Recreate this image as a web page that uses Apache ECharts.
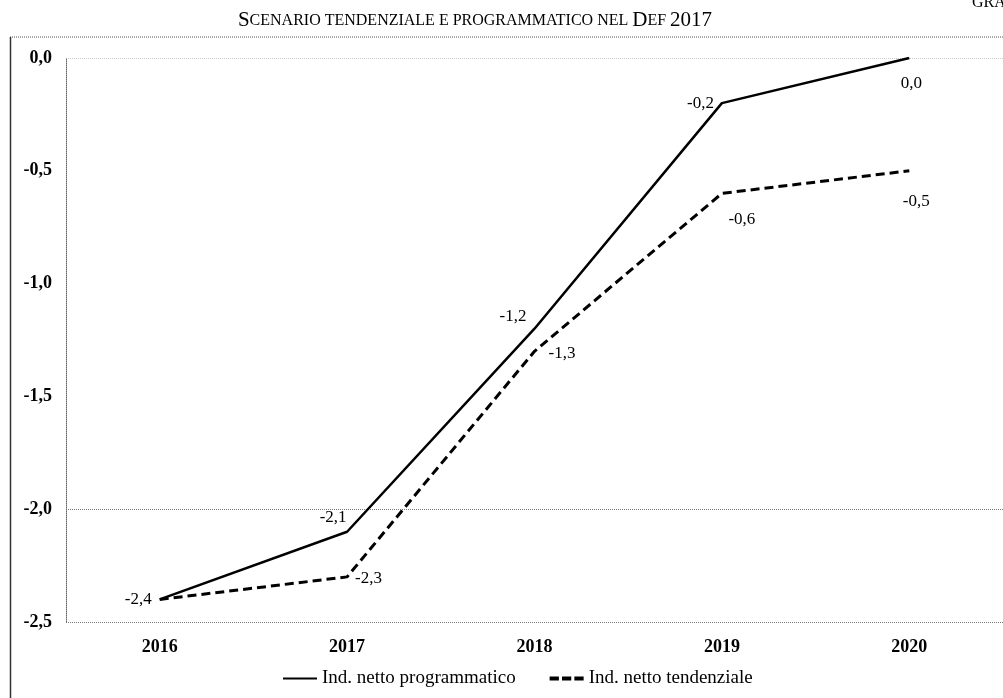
<!DOCTYPE html>
<html>
<head>
<meta charset="utf-8">
<script src="https://cdn.jsdelivr.net/npm/echarts@6/dist/echarts.min.js"></script>
<style>
  html, body { margin: 0; padding: 0; background: #fff; }
  #chart { width: 1003px; height: 698px; }
</style>
</head>
<body>
<div id="chart"></div>
<script>
const years = ['2016', '2017', '2018', '2019', '2020'];
const programmatico = [-2.4, -2.1, -1.2, -0.2, 0.0];
const tendenziale = [-2.4, -2.3, -1.3, -0.6, -0.5];

// where each value label sits relative to its point
const progLabels = [
  { position: 'left' },
  { position: 'top', offset: [-14, 2] },
  { position: 'left', offset: [0, -12] },
  { position: 'left' },
  { position: 'bottom', offset: [2, 9] }
];
const tendLabels = [
  { show: false },
  { position: 'right', offset: [0, 2] },
  { position: 'right', offset: [6, 2] },
  { position: 'bottom', offset: [20, 10] },
  { position: 'bottom', offset: [7, 14] }
];

const fmt = v => v.toFixed(1).replace('.', ',');
const serif = 'Liberation Serif';

const chart = echarts.init(document.getElementById('chart'));

const option = {
  animation: false,
  textStyle: { fontFamily: serif, color: '#000' },
  title: {
    left: 470,
    textAlign: 'center',
    top: 5,
    text: '{b|S}{s|CENARIO TENDENZIALE E PROGRAMMATICO NEL }{b|D}{s|EF }{b|2017}',
    textStyle: {
      fontWeight: 'normal',
      rich: {
        b: { fontFamily: serif, fontSize: 21, fontWeight: 'normal', color: '#000' },
        s: { fontFamily: serif, fontSize: 16, fontWeight: 'normal', color: '#000' }
      }
    }
  },
  graphic: [
    { type: 'line', shape: { x1: 10, y1: 37, x2: 1003, y2: 37 }, style: { stroke: '#555', lineWidth: 1, lineDash: [1, 1] } },
    { type: 'line', shape: { x1: 10.5, y1: 37, x2: 10.5, y2: 698 }, style: { stroke: '#333', lineWidth: 1.5 } },
    { type: 'text', left: 972, top: -5, style: { text: 'GRAF', font: '16px "Liberation Serif"', fill: '#000' } }
  ],
  grid: { left: 66, right: 0, top: 58, bottom: 76 },
  legend: {
    bottom: 5,
    left: 278,
    itemWidth: 34,
    itemHeight: 10,
    itemGap: 34,
    textStyle: { fontFamily: serif, fontSize: 19, color: '#000' },
    data: [
      { name: 'Ind. netto programmatico', icon: 'path://M0,4L34,4L34,6L0,6Z' },
      { name: 'Ind. netto tendenziale', icon: 'path://M0,3L9,3L9,7L0,7Z M12,3L21,3L21,7L12,7Z M24,3L33,3L33,7L24,7Z' }
    ]
  },
  xAxis: {
    type: 'category',
    data: years,
    boundaryGap: true,
    axisLine: { show: false },
    axisTick: { show: false },
    axisLabel: { fontFamily: serif, fontSize: 18, fontWeight: 'bold', color: '#000', margin: 16 }
  },
  yAxis: {
    type: 'value',
    min: -2.5,
    max: 0,
    interval: 0.5,
    axisLine: { show: true, lineStyle: { color: '#666', type: 'dotted', width: 1 } },
    axisTick: { show: false },
    axisLabel: { fontFamily: serif, fontSize: 18, fontWeight: 'bold', color: '#000', margin: 14, formatter: fmt },
    splitLine: {
      show: true,
      lineStyle: { color: ['#777', '#777', '#fff', '#fff', '#fff', '#ccc'], type: 'dotted', width: 1 }
    }
  },
  series: [
    {
      name: 'Ind. netto programmatico',
      type: 'line',
      data: programmatico.map((v, i) => ({ value: v, label: progLabels[i] })),
      symbol: 'circle',
      symbolSize: 0,
      lineStyle: { color: '#000', width: 2.5 },
      itemStyle: { color: '#000' },
      label: { show: true, fontFamily: serif, fontSize: 17, color: '#000', formatter: p => fmt(p.value), distance: 8 },
      z: 3
    },
    {
      name: 'Ind. netto tendenziale',
      type: 'line',
      data: tendenziale.map((v, i) => ({ value: v, label: tendLabels[i] })),
      symbol: 'circle',
      symbolSize: 0,
      lineStyle: { color: '#000', width: 3, type: [9, 5] },
      itemStyle: { color: '#000' },
      label: { show: true, fontFamily: serif, fontSize: 17, color: '#000', formatter: p => fmt(p.value), distance: 8 },
      z: 2
    }
  ]
};

chart.setOption(option);
</script>
</body>
</html>
